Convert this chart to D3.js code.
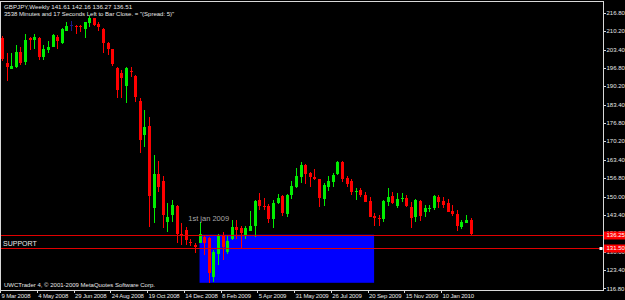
<!DOCTYPE html>
<html>
<head>
<meta charset="utf-8">
<title>GBPJPY Weekly</title>
<script src="https://d3js.org/d3.v7.min.js"></script>
<style>
  html, body { margin: 0; padding: 0; background: #000; }
  svg { display: block; font-family: "Liberation Sans", Arial, sans-serif; }
</style>
</head>
<body>
<div id="chart"></div>
<script>
// weekly candles, first bar = week of 9 Mar 2008
var opens  = [207.5,198.7,196.4,197.0,202.6,199.0,207.5,206.9,207.5,200.8,203.3,204.5,208.1,205.7,210.3,212.3,212.1,211.9,210.9,213.2,
              214.8,212.7,210.9,205.9,203.6,196.6,194.8,190.2,195.5,193.9,184.9,172.4,175.7,146.0,158.2,155.8,140.7,143.4,146.8,136.5,
              137.9,133.6,132.4,133.3,135.5,135.2,120.8,129.2,136.1,130.1,134.7,138.9,138.6,136.1,137.6,139.4,148.8,146.8,146.7,141.8,
              147.6,150.3,143.7,150.7,153.7,157.1,161.6,158.7,157.1,156.4,149.2,153.7,155.5,158.2,162.7,156.8,155.7,151.8,152.5,150.7,
              148.5,143.0,142.3,142.0,148.2,150.3,146.7,149.2,149.7,146.2,142.6,148.5,144.5,145.7,145.8,149.8,148.5,147.6,144.8,143.7,
              138.9,140.6,141.61];
var highs  = [208.3,202.1,202.1,205.1,204.2,209.1,208.1,209.1,208.1,205.1,206.5,209.1,208.7,211.1,213.5,213.9,212.3,212.3,213.5,215.7,
              214.9,213.5,211.1,206.3,203.7,197.0,196.0,197.0,197.2,194.2,185.7,181.5,178.8,165.2,163.1,157.5,147.6,148.8,147.0,140.4,
              138.9,134.7,133.3,141.0,136.1,135.5,130.7,136.5,137.3,135.8,141.6,141.6,139.5,139.5,144.8,148.8,151.5,149.7,147.5,148.8,
              151.0,150.7,151.0,155.7,160.6,162.5,161.8,158.9,160.1,156.6,155.1,157.5,158.5,163.0,163.0,157.5,156.4,153.1,153.1,151.8,
              150.0,144.2,143.4,148.8,153.1,151.8,151.3,151.5,150.7,148.2,149.1,148.8,147.0,147.0,150.7,150.7,149.8,149.2,147.0,145.2,
              141.6,143.4,142.16];
var lows   = [199.3,192.1,196.2,196.6,197.8,197.8,203.3,203.5,199.6,199.6,202.1,204.2,203.5,205.4,210.3,210.3,209.1,209.9,207.7,211.7,
              212.1,210.3,202.3,201.5,197.5,185.7,185.7,184.1,193.6,184.5,165.8,168.0,139.2,140.4,151.8,138.6,137.3,141.0,133.1,132.5,
              132.5,132.1,129.5,133.3,128.9,118.8,119.2,125.3,127.0,129.2,134.3,134.7,131.6,134.6,137.6,135.5,145.3,145.2,140.6,138.8,
              147.3,143.0,142.8,149.2,153.1,155.1,154.6,153.7,156.1,146.4,146.7,152.2,153.7,157.9,155.5,153.5,150.7,148.8,150.0,148.0,
              142.5,139.4,139.4,141.0,146.7,147.4,145.8,148.2,146.2,138.8,141.0,141.3,142.8,144.6,145.2,145.8,146.0,144.4,143.1,137.7,
              138.2,140.4,136.27];
var closes = [199.9,197.2,197.6,202.4,198.4,206.9,206.9,208.1,200.8,203.5,204.5,208.7,206.5,210.9,212.1,212.3,211.5,211.6,213.5,214.8,
              212.3,211.5,205.7,203.6,198.2,188.8,193.0,196.6,195.3,186.3,170.6,175.4,150.3,158.3,153.7,143.4,142.6,147.0,136.5,136.2,
              134.3,133.1,131.9,136.5,133.1,122.5,130.1,136.1,131.9,134.1,139.0,137.9,136.7,138.6,139.4,148.5,146.8,146.4,142.0,147.7,
              149.7,144.1,150.7,153.9,157.7,161.6,158.3,157.1,156.6,149.5,154.3,155.7,157.9,162.5,156.5,154.6,151.8,152.2,150.7,148.2,
              142.8,142.2,142.0,148.5,150.0,147.6,149.2,149.6,146.7,142.2,148.8,143.0,145.8,145.9,150.3,148.0,147.0,144.6,143.7,139.4,
              141.0,141.6,136.51];

var priceTicks = [216.80, 210.20, 203.40, 196.80, 190.20, 183.40, 176.80, 170.20, 163.40, 156.80, 150.00, 143.40, 136.80, 130.00, 123.40, 116.80];
var dateTicks = ["2008-03-09", "2008-05-04", "2008-06-29", "2008-08-24", "2008-10-19", "2008-12-14", "2009-02-08",
                 "2009-04-05", "2009-05-31", "2009-07-26", "2009-09-20", "2009-11-15", "2010-01-10"];
var levels = [136.25, 131.50];
var zone = {from: "2009-01-04", to: "2009-09-27", top: 136.25, bottom: 118.80};

var W = 625, H = 300;
var plotR = 603, plotT = 2, plotB = 290;

var parse = d3.timeParse("%Y-%m-%d");
var start = parse("2008-03-09");
var weeks = d3.timeWeek.range(start, d3.timeWeek.offset(start, opens.length));
var bars = weeks.map(function(d, i) {
  return {date: d, o: opens[i], h: highs[i], l: lows[i], c: closes[i]};
});

var x = d3.scaleTime()
  .domain([weeks[0], weeks[weeks.length - 1]])
  .range([2, 2 + (weeks.length - 1) * 4.594]);
var y = d3.scaleLinear().domain([116.8, 216.8]).range([288.3, 12.7]);

var svg = d3.select("#chart").append("svg")
  .attr("width", W).attr("height", H);
svg.append("rect").attr("width", W).attr("height", H).attr("fill", "#000");

svg.append("clipPath").attr("id", "plot")
  .append("rect").attr("x", 0).attr("y", plotT).attr("width", plotR).attr("height", plotB - plotT);
var plot = svg.append("g").attr("clip-path", "url(#plot)");

// support zone
plot.append("rect")
  .attr("x", x(parse(zone.from)))
  .attr("y", y(zone.top))
  .attr("width", x(parse(zone.to)) - x(parse(zone.from)))
  .attr("height", y(zone.bottom) - y(zone.top))
  .attr("fill", "#0000ff");

function col(d) {
  if (d.c > d.o) return "#00ee00";
  if (d.c < d.o) return "#ff0000";
  return "#1c1c8c";
}

var candles = plot.append("g").attr("shape-rendering", "crispEdges")
  .selectAll("g").data(bars).enter().append("g");
candles.append("line")
  .attr("x1", function(d) { return Math.round(x(d.date)) + 0.5; })
  .attr("x2", function(d) { return Math.round(x(d.date)) + 0.5; })
  .attr("y1", function(d) { return y(d.h); })
  .attr("y2", function(d) { return y(d.l); })
  .attr("stroke", col).attr("stroke-width", 1);
candles.append("rect")
  .attr("x", function(d) { return Math.round(x(d.date)) - 1; })
  .attr("width", 3)
  .attr("y", function(d) { return y(Math.max(d.o, d.c)); })
  .attr("height", function(d) { return Math.max(1, Math.abs(y(d.o) - y(d.c))); })
  .attr("fill", col);

// horizontal levels
plot.selectAll(".lvl").data(levels).enter().append("line")
  .attr("x1", 0).attr("x2", plotR)
  .attr("y1", function(d) { return Math.round(y(d)) + 0.5; })
  .attr("y2", function(d) { return Math.round(y(d)) + 0.5; })
  .attr("stroke", "#e00000").attr("stroke-width", 1);
plot.append("rect")
  .attr("x", plotR - 3.5).attr("y", Math.round(y(levels[1])) - 1)
  .attr("width", 3).attr("height", 3).attr("fill", "#fff");

// texts in plot
plot.append("text")
  .attr("x", x(weeks[40]) + 2.5).attr("y", y(141.4))
  .attr("font-size", "7.5px").attr("fill", "#a8a8a8")
  .text("1st jan 2009");
plot.append("text")
  .attr("x", 3).attr("y", y(levels[1]) - 1.5)
  .attr("font-size", "7px").attr("fill", "#e8e8e8")
  .text("SUPPORT");
plot.append("text").attr("x", 4).attr("y", 9)
  .attr("font-size", "6.2px").attr("fill", "#e8e8e8")
  .text("GBPJPY,Weekly  141.61 142.16 136.27 136.51");
plot.append("text").attr("x", 4).attr("y", 16)
  .attr("font-size", "6px").attr("fill", "#e8e8e8")
  .text("3538 Minutes and 17 Seconds Left to Bar Close. = \"(Spread: 5)\"");
plot.append("text").attr("x", 4).attr("y", 286.5)
  .attr("font-size", "6px").attr("fill", "#e8e8e8")
  .text("UWCTrader 4, \u00a9 2001-2009 MetaQuotes Software Corp.");

// frame
svg.append("rect")
  .attr("x", 0.5).attr("y", 1.5).attr("width", plotR).attr("height", plotB - 1.5)
  .attr("fill", "none").attr("stroke", "#d8d8d8").attr("stroke-width", 1)
  .attr("shape-rendering", "crispEdges");

// price axis
var yAxis = svg.append("g").attr("shape-rendering", "crispEdges");
var pt = yAxis.selectAll("g").data(priceTicks).enter().append("g");
pt.append("line")
  .attr("x1", plotR + 0.5).attr("x2", plotR + 3)
  .attr("y1", function(d) { return Math.round(y(d)) + 0.5; })
  .attr("y2", function(d) { return Math.round(y(d)) + 0.5; })
  .attr("stroke", "#d8d8d8");
pt.append("text")
  .attr("x", plotR + 3.5).attr("y", function(d) { return y(d) + 2.2; })
  .attr("font-size", "6px").attr("fill", "#e8e8e8")
  .text(function(d) { return d.toFixed(2); });

// level price labels
var ll = svg.selectAll(".ll").data(levels).enter().append("g");
ll.append("rect")
  .attr("x", plotR + 1).attr("y", function(d) { return Math.round(y(d)) - 3.5; })
  .attr("width", W - plotR - 1).attr("height", 8)
  .attr("fill", "#ff0000");
ll.append("text")
  .attr("x", plotR + 3.5).attr("y", function(d) { return y(d) + 2.2; })
  .attr("font-size", "6px").attr("fill", "#fff")
  .text(function(d) { return d.toFixed(2); });

// time axis
var fmt = d3.timeFormat("%-d %b %Y");
var tt = svg.append("g").selectAll("g").data(dateTicks.map(parse)).enter().append("g");
tt.append("line")
  .attr("x1", function(d) { return Math.round(x(d)) - 1.5; })
  .attr("x2", function(d) { return Math.round(x(d)) - 1.5; })
  .attr("y1", plotB).attr("y2", plotB + 3)
  .attr("stroke", "#d8d8d8").attr("shape-rendering", "crispEdges");
tt.append("text")
  .attr("x", function(d) { return x(d) - 0.5; }).attr("y", 297.5)
  .attr("font-size", "6px").attr("letter-spacing", "-0.15px").attr("fill", "#e8e8e8")
  .text(fmt);
</script>
</body>
</html>
